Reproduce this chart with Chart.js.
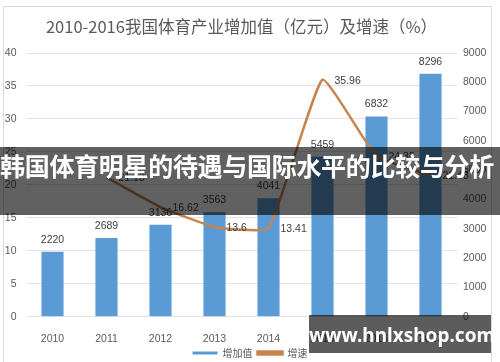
<!DOCTYPE html>
<html>
<head>
<meta charset="utf-8">
<script src="https://cdn.jsdelivr.net/npm/chart.js@4"></script>
<style>
  html, body { margin: 0; padding: 0; width: 500px; height: 362px; overflow: hidden; background: #fff; }
  #wrap { position: relative; width: 500px; height: 362px; overflow: hidden; }
  #frame { position: absolute; left: 3px; top: 6px; width: 487px; height: 360px; border: 1px solid #d9d9d9; border-bottom: none; }
  #chartBox { position: absolute; left: 0; top: 0; width: 500px; height: 380px; }
  #banner {
    position: absolute; left: 0; top: 147px; width: 500px; height: 68px;
    background: rgba(0, 0, 0, 0.62);
  }
  #banner span {
    position: absolute; left: -6px; width: 506px; top: 0; line-height: 72px;
    text-align: center; white-space: nowrap; color: #fff;
    font: bold 25px "Noto Sans CJK SC", sans-serif; letter-spacing: -0.3px;
  }
  #mark {
    position: absolute; left: 309px; top: 315px; width: 182px; height: 38px;
    background: rgba(0, 0, 0, 0.64); color: #fff; text-align: center;
    font: bold 19px "Noto Sans", sans-serif; line-height: 40px;
  }
</style>
</head>
<body>
<div id="wrap">
  <div id="frame"></div>
  <div id="chartBox"><canvas id="chart" width="500" height="380"></canvas></div>
  <div id="banner"><span>韩国体育明星的待遇与国际水平的比较与分析</span></div>
  <div id="mark">www.hnlxshop.com</div>
</div>
<script>
  const years = ['2010', '2011', '2012', '2013', '2014', '2015', '2016', '2017'];
  const addedValue = [2220, 2689, 3136, 3563, 4041, 5459, 6832, 8296];
  const growthRate = [null, 21.13, 16.62, 13.6, 13.41, 35.96, 24.35, 21.43];

  const numFont = { family: '"Liberation Sans", Arial, sans-serif', size: 10.5 };
  const textGray = '#595959';

  // labels on bars (above) and on the line (to the right of the point)
  const valueLabels = {
    id: 'valueLabels',
    afterDatasetsDraw(chart) {
      const ctx = chart.ctx;
      ctx.save();
      ctx.font = '10.5px "Liberation Sans", Arial, sans-serif';
      ctx.fillStyle = '#404040';
      ctx.textBaseline = 'middle';

      const barMeta = chart.getDatasetMeta(0);
      ctx.textAlign = 'center';
      barMeta.data.forEach((bar, i) => {
        ctx.fillText(String(addedValue[i]), bar.x, bar.y - 12);
      });

      const lineMeta = chart.getDatasetMeta(1);
      ctx.textAlign = 'left';
      lineMeta.data.forEach((pt, i) => {
        if (growthRate[i] == null) return;
        ctx.fillText(String(growthRate[i]), pt.x + 12, pt.y + 1);
      });
      ctx.restore();
    }
  };

  new Chart(document.getElementById('chart'), {
    data: {
      labels: years,
      datasets: [{
        type: 'bar',
        label: '增加值',
        data: addedValue,
        yAxisID: 'yRight',
        backgroundColor: '#5b9bd5',
        categoryPercentage: 1,
        barPercentage: 0.41,
        order: 1
      }, {
        type: 'line',
        label: '增速',
        data: growthRate,
        yAxisID: 'yLeft',
        borderColor: '#c8844e',
        backgroundColor: '#c8844e',
        borderWidth: 2.5,
        pointRadius: 0,
        tension: 0.12,
        order: 0
      }]
    },
    options: {
      responsive: false,
      animation: false,
      layout: { padding: { left: 0, right: 0, top: 0, bottom: 12 } },
      plugins: {
        title: {
          display: true,
          fullSize: false,
          text: '2010-2016我国体育产业增加值（亿元）及增速（%）',
          color: textGray,
          font: { family: '"Noto Sans CJK SC", sans-serif', size: 16.5, weight: 'normal', lineHeight: 1.2 },
          padding: { top: 16.6, bottom: 16.6 }
        },
        legend: {
          position: 'bottom',
          labels: {
            boxWidth: 25,
            boxHeight: 3,
            padding: 5,
            color: textGray,
            font: { family: '"Noto Sans CJK SC", sans-serif', size: 10 },
            sort: (a, b) => a.datasetIndex - b.datasetIndex
          }
        },
        tooltip: { enabled: false }
      },
      scales: {
        x: {
          offset: true,
          grid: { display: false },
          border: { display: false },
          ticks: { color: textGray, font: numFont, padding: 8 },
          afterFit: (scale) => { scale.height = 26.3; }
        },
        yLeft: {
          position: 'left',
          min: 0,
          max: 40,
          ticks: { stepSize: 5, color: textGray, font: numFont, padding: 9 },
          grid: { color: '#e3e3e3', drawTicks: false },
          border: { display: false },
          afterFit: (scale) => { scale.width = 25.5; }
        },
        yRight: {
          position: 'right',
          min: 0,
          max: 9000,
          ticks: { stepSize: 1000, color: textGray, font: numFont, padding: 5.5, callback: (v) => String(v) },
          grid: { drawOnChartArea: false, drawTicks: false },
          border: { display: false },
          afterFit: (scale) => { scale.width = 42.5; }
        }
      }
    },
    plugins: [valueLabels]
  });
</script>
</body>
</html>
